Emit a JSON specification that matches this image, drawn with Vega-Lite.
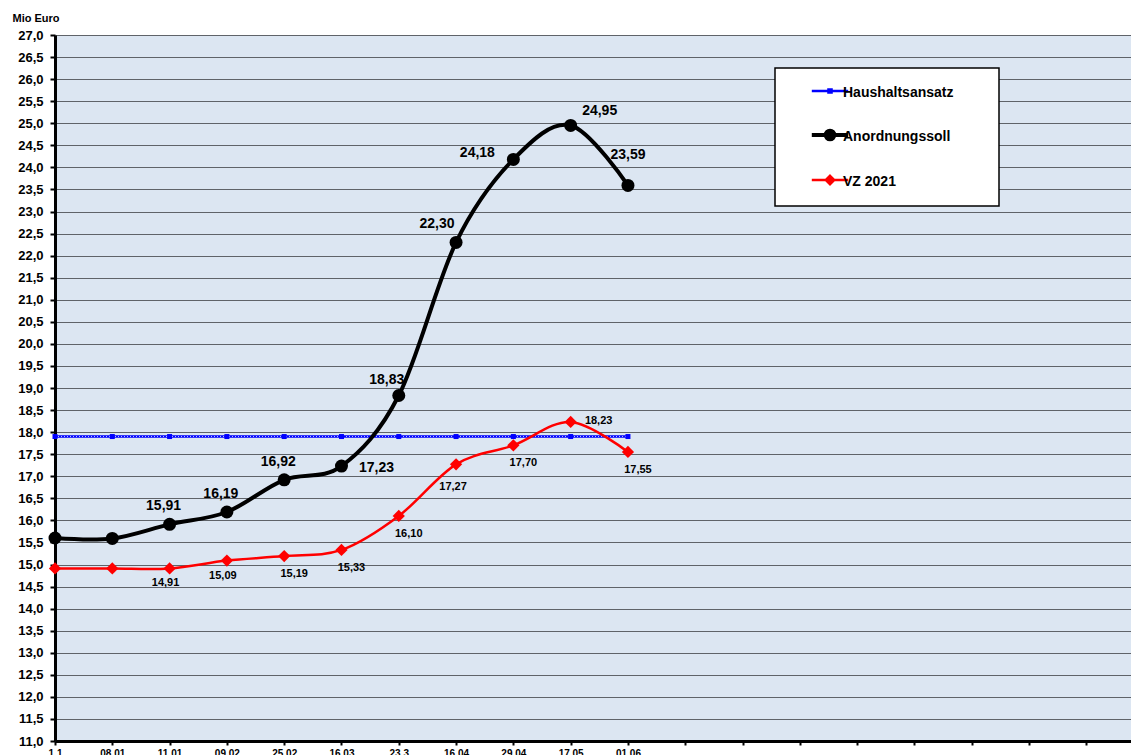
{
  "$schema": "https://vega.github.io/schema/vega-lite/v6.json",
  "width": 1076,
  "height": 706,
  "autosize": {"type": "none"},
  "padding": {"left": 55, "top": 35, "right": 0, "bottom": 14},
  "background": "white",
  "config": {
    "locale": {"number": {"decimal": ",", "thousands": ".", "grouping": [3], "currency": ["", " €"]}},
    "view": {"fill": "#dce6f2", "stroke": null},
    "font": "Liberation Sans"
  },
  "data": {"values": [
    {"s": "Haushaltsansatz", "i": 0, "d": "1.1", "v": 17.9},
    {"s": "Haushaltsansatz", "i": 1, "d": "08.01", "v": 17.9},
    {"s": "Haushaltsansatz", "i": 2, "d": "11.01", "v": 17.9},
    {"s": "Haushaltsansatz", "i": 3, "d": "09.02", "v": 17.9},
    {"s": "Haushaltsansatz", "i": 4, "d": "25.02", "v": 17.9},
    {"s": "Haushaltsansatz", "i": 5, "d": "16.03", "v": 17.9},
    {"s": "Haushaltsansatz", "i": 6, "d": "23.3", "v": 17.9},
    {"s": "Haushaltsansatz", "i": 7, "d": "16.04", "v": 17.9},
    {"s": "Haushaltsansatz", "i": 8, "d": "29.04", "v": 17.9},
    {"s": "Haushaltsansatz", "i": 9, "d": "17.05", "v": 17.9},
    {"s": "Haushaltsansatz", "i": 10, "d": "01.06", "v": 17.9},
    {"s": "Anordnungssoll", "i": 0, "d": "1.1", "v": 15.60},
    {"s": "Anordnungssoll", "i": 1, "d": "08.01", "v": 15.59},
    {"s": "Anordnungssoll", "i": 2, "d": "11.01", "v": 15.91},
    {"s": "Anordnungssoll", "i": 3, "d": "09.02", "v": 16.19},
    {"s": "Anordnungssoll", "i": 4, "d": "25.02", "v": 16.92},
    {"s": "Anordnungssoll", "i": 5, "d": "16.03", "v": 17.23},
    {"s": "Anordnungssoll", "i": 6, "d": "23.3", "v": 18.83},
    {"s": "Anordnungssoll", "i": 7, "d": "16.04", "v": 22.30},
    {"s": "Anordnungssoll", "i": 8, "d": "29.04", "v": 24.18},
    {"s": "Anordnungssoll", "i": 9, "d": "17.05", "v": 24.95},
    {"s": "Anordnungssoll", "i": 10, "d": "01.06", "v": 23.59},
    {"s": "VZ 2021", "i": 0, "d": "1.1", "v": 14.91},
    {"s": "VZ 2021", "i": 1, "d": "08.01", "v": 14.91},
    {"s": "VZ 2021", "i": 2, "d": "11.01", "v": 14.91},
    {"s": "VZ 2021", "i": 3, "d": "09.02", "v": 15.09},
    {"s": "VZ 2021", "i": 4, "d": "25.02", "v": 15.19},
    {"s": "VZ 2021", "i": 5, "d": "16.03", "v": 15.33},
    {"s": "VZ 2021", "i": 6, "d": "23.3", "v": 16.10},
    {"s": "VZ 2021", "i": 7, "d": "16.04", "v": 17.27},
    {"s": "VZ 2021", "i": 8, "d": "29.04", "v": 17.70},
    {"s": "VZ 2021", "i": 9, "d": "17.05", "v": 18.23},
    {"s": "VZ 2021", "i": 10, "d": "01.06", "v": 17.55}
  ]},
  "encoding": {
    "x": {
      "field": "i", "type": "quantitative",
      "scale": {"domain": [0, 18.78], "nice": false, "zero": false},
      "axis": {
        "title": null, "values": [0,1,2,3,4,5,6,7,8,9,10,11,12,13,14,15,16,17,18],
        "labelExpr": "['1.1','08.01','11.01','09.02','25.02','16.03','23.3','16.04','29.04','17.05','01.06'][datum.value] || ''",
        "grid": false, "domainColor": "black", "domainWidth": 3, "tickColor": "black", "tickWidth": 2, "tickSize": 4,
        "labelFont": "Liberation Sans", "labelFontWeight": "bold", "labelFontSize": 10, "labelColor": "black",
        "labelPadding": 3, "labelOverlap": false, "labelFlush": false
      }
    },
    "y": {
      "field": "v", "type": "quantitative",
      "scale": {"domain": [11, 27], "nice": false, "zero": false},
      "axis": {
        "title": "Mio Euro", "titleAngle": 0, "titleAlign": "left", "titleBaseline": "middle",
        "titleX": -43, "titleY": -17, "titleFont": "Liberation Sans", "titleFontSize": 11, "titleFontWeight": "bold", "titleColor": "black",
        "values": [11,11.5,12,12.5,13,13.5,14,14.5,15,15.5,16,16.5,17,17.5,18,18.5,19,19.5,20,20.5,21,21.5,22,22.5,23,23.5,24,24.5,25,25.5,26,26.5,27],
        "format": ".1f",
        "grid": true, "gridColor": "#5f6369", "gridWidth": 1.2, "gridOpacity": 1,
        "domainColor": "black", "domainWidth": 3, "tickColor": "black", "tickWidth": 2, "tickSize": 5,
        "labelFont": "Liberation Sans", "labelFontWeight": "bold", "labelFontSize": 13, "labelColor": "black",
        "labelPadding": 7, "labelOverlap": false, "labelFlush": false
      }
    }
  },
  "layer": [
    {
      "transform": [{"filter": "datum.s === 'Haushaltsansatz'"}],
      "mark": {"type": "line", "strokeWidth": 2.5},
      "encoding": {
        "color": {
          "field": "s", "type": "nominal",
          "scale": {"domain": ["Haushaltsansatz", "Anordnungssoll", "VZ 2021"], "range": ["#0000ff", "#000000", "#ff0000"]},
          "legend": {
            "title": "\u00a0", "titleOrient": "right", "titlePadding": 30, "titleFontSize": 14,
            "orient": "none", "legendX": 720, "legendY": 33,
            "fillColor": "white", "strokeColor": "black",
            "padding": 16, "symbolOffset": 32, "symbolSize": 784, "rowPadding": 22, "labelOffset": 3,
            "labelFont": "Liberation Sans", "labelFontSize": 14, "labelFontWeight": "bold", "labelColor": "black",
            "encode": {
              "legend": {"update": {"strokeWidth": {"value": 1.5}}},
              "labels": {"update": {"dx": {"value": 3}, "dy": {"value": 2}}},
              "symbols": {"update": {
              "shape": {"signal": "datum.value === 'Haushaltsansatz' ? 'M-1.3,0H1.3M-0.11,-0.11H0.11V0.11H-0.11Z' : datum.value === 'Anordnungssoll' ? 'M-1.3,0H1.3M-0.31,0A0.31,0.31,0,1,0,0.31,0A0.31,0.31,0,1,0,-0.31,0Z' : 'M-1.3,0H1.3M0,-0.3L0.3,0L0,0.3L-0.3,0Z'"},
              "fill": {"signal": "datum.value === 'Haushaltsansatz' ? '#0000ff' : datum.value === 'Anordnungssoll' ? '#000000' : '#ff0000'"},
              "stroke": {"signal": "datum.value === 'Haushaltsansatz' ? '#0000ff' : datum.value === 'Anordnungssoll' ? '#000000' : '#ff0000'"},
              "strokeWidth": {"signal": "datum.value === 'Anordnungssoll' ? 4 : 2.5"},
              "opacity": {"value": 1},
              "fillOpacity": {"value": 1},
              "strokeOpacity": {"value": 1}
            }}}
          }
        }
      }
    },
    {
      "transform": [{"filter": "datum.s === 'Haushaltsansatz'"}],
      "mark": {"type": "line", "strokeWidth": 1, "color": "#b8c4ff", "strokeDash": [1, 2]}
    },
    {
      "transform": [{"filter": "datum.s === 'Haushaltsansatz'"}],
      "mark": {"type": "point", "shape": "square", "filled": true, "size": 25, "color": "#0000ff", "opacity": 1}
    },
    {
      "transform": [{"filter": "datum.s === 'Anordnungssoll'"}],
      "mark": {"type": "line", "strokeWidth": 4, "interpolate": "cardinal"},
      "encoding": {"color": {"field": "s", "type": "nominal"}}
    },
    {
      "transform": [{"filter": "datum.s === 'Anordnungssoll'"}],
      "mark": {"type": "point", "shape": "circle", "filled": true, "size": 169, "color": "#000000", "opacity": 1}
    },
    {
      "transform": [{"filter": "datum.s === 'VZ 2021'"}],
      "mark": {"type": "line", "strokeWidth": 2.5, "interpolate": "cardinal"},
      "encoding": {"color": {"field": "s", "type": "nominal"}}
    },
    {
      "transform": [{"filter": "datum.s === 'VZ 2021'"}],
      "mark": {"type": "point", "shape": "diamond", "filled": true, "size": 150, "color": "#ff0000", "opacity": 1}
    },
    {
      "transform": [{"filter": "datum.s === 'Anordnungssoll' && indexof(['11.01','09.02','25.02'], datum.d) >= 0"}],
      "mark": {"type": "text", "dx": -6, "dy": -18, "fontSize": 14, "fontWeight": "bold", "color": "black", "baseline": "middle"},
      "encoding": {"text": {"field": "v", "type": "quantitative", "format": ".2f"}}
    },
    {
      "transform": [{"filter": "datum.s === 'Anordnungssoll' && datum.d === '23.3'"}],
      "mark": {"type": "text", "dx": -12, "dy": -16, "fontSize": 14, "fontWeight": "bold", "color": "black", "baseline": "middle"},
      "encoding": {"text": {"field": "v", "type": "quantitative", "format": ".2f"}}
    },
    {
      "transform": [{"filter": "datum.s === 'Anordnungssoll' && datum.d === '16.04'"}],
      "mark": {"type": "text", "dx": -19, "dy": -18, "fontSize": 14, "fontWeight": "bold", "color": "black", "baseline": "middle"},
      "encoding": {"text": {"field": "v", "type": "quantitative", "format": ".2f"}}
    },
    {
      "transform": [{"filter": "datum.s === 'Anordnungssoll' && datum.d === '29.04'"}],
      "mark": {"type": "text", "dx": -36, "dy": -6, "fontSize": 14, "fontWeight": "bold", "color": "black", "baseline": "middle"},
      "encoding": {"text": {"field": "v", "type": "quantitative", "format": ".2f"}}
    },
    {
      "transform": [{"filter": "datum.s === 'Anordnungssoll' && datum.d === '17.05'"}],
      "mark": {"type": "text", "dx": 29, "dy": -14, "fontSize": 14, "fontWeight": "bold", "color": "black", "baseline": "middle"},
      "encoding": {"text": {"field": "v", "type": "quantitative", "format": ".2f"}}
    },
    {
      "transform": [{"filter": "datum.s === 'Anordnungssoll' && datum.d === '16.03'"}],
      "mark": {"type": "text", "dx": 35, "dy": 2, "fontSize": 14, "fontWeight": "bold", "color": "black", "baseline": "middle"},
      "encoding": {"text": {"field": "v", "type": "quantitative", "format": ".2f"}}
    },
    {
      "transform": [{"filter": "datum.s === 'Anordnungssoll' && datum.d === '01.06'"}],
      "mark": {"type": "text", "dx": 0, "dy": -30, "fontSize": 14, "fontWeight": "bold", "color": "black", "baseline": "middle"},
      "encoding": {"text": {"field": "v", "type": "quantitative", "format": ".2f"}}
    },
    {
      "transform": [{"filter": "datum.s === 'VZ 2021' && indexof(['11.01','09.02'], datum.d) >= 0"}],
      "mark": {"type": "text", "dx": -4, "dy": 15, "fontSize": 11, "fontWeight": "bold", "color": "black", "baseline": "middle"},
      "encoding": {"text": {"field": "v", "type": "quantitative", "format": ".2f"}}
    },
    {
      "transform": [{"filter": "datum.s === 'VZ 2021' && indexof(['25.02','16.03','23.3','29.04','01.06'], datum.d) >= 0"}],
      "mark": {"type": "text", "dx": 10, "dy": 18, "fontSize": 11, "fontWeight": "bold", "color": "black", "baseline": "middle"},
      "encoding": {"text": {"field": "v", "type": "quantitative", "format": ".2f"}}
    },
    {
      "transform": [{"filter": "datum.s === 'VZ 2021' && datum.d === '16.04'"}],
      "mark": {"type": "text", "dx": -3, "dy": 23, "fontSize": 11, "fontWeight": "bold", "color": "black", "baseline": "middle"},
      "encoding": {"text": {"field": "v", "type": "quantitative", "format": ".2f"}}
    },
    {
      "transform": [{"filter": "datum.s === 'VZ 2021' && datum.d === '17.05'"}],
      "mark": {"type": "text", "dx": 28, "dy": -1, "fontSize": 11, "fontWeight": "bold", "color": "black", "baseline": "middle"},
      "encoding": {"text": {"field": "v", "type": "quantitative", "format": ".2f"}}
    }
  ]
}
